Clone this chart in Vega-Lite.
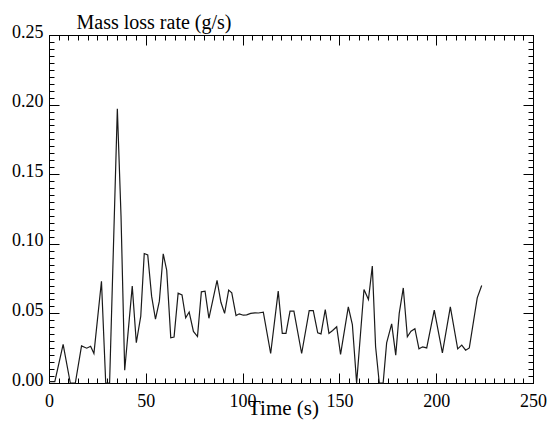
{
  "$schema": "https://vega.github.io/schema/vega-lite/v6.json",
  "width": 484,
  "height": 348,
  "autosize": "none",
  "padding": {"left": 49, "top": 35, "right": 17, "bottom": 40},
  "background": "white",
  "config": {
    "view": {"stroke": "black", "strokeWidth": 1},
    "font": "Liberation Serif",
    "axis": {"domainColor": "black", "tickColor": "black", "labelColor": "black", "titleColor": "black", "grid": false, "labelFont": "Liberation Serif", "titleFont": "Liberation Serif", "titleFontWeight": "normal", "zindex": 1}
  },
  "datasets": {
    "rate": [
      {"t": 0, "v": 0.001}, {"t": 3, "v": 0.001}, {"t": 7.3, "v": 0.0277}, {"t": 11, "v": 0}, {"t": 13.6, "v": 0},
      {"t": 16.8, "v": 0.0266}, {"t": 19.5, "v": 0.025}, {"t": 21.5, "v": 0.0264}, {"t": 23.2, "v": 0.0212}, {"t": 27.1, "v": 0.0731},
      {"t": 29.3, "v": 0}, {"t": 31.3, "v": 0}, {"t": 35.3, "v": 0.197}, {"t": 37.2, "v": 0.12}, {"t": 39.1, "v": 0.0092},
      {"t": 43, "v": 0.0696}, {"t": 45.1, "v": 0.0289}, {"t": 47.4, "v": 0.048}, {"t": 49.2, "v": 0.093}, {"t": 51, "v": 0.092},
      {"t": 53, "v": 0.0624}, {"t": 55, "v": 0.0458}, {"t": 57, "v": 0.0588}, {"t": 59, "v": 0.0928}, {"t": 60.8, "v": 0.081},
      {"t": 62.9, "v": 0.0325}, {"t": 64.6, "v": 0.033}, {"t": 66.7, "v": 0.0645}, {"t": 68.7, "v": 0.0633}, {"t": 70.6, "v": 0.0468},
      {"t": 72.4, "v": 0.051}, {"t": 74.6, "v": 0.037}, {"t": 76.7, "v": 0.0334}, {"t": 78.7, "v": 0.0655}, {"t": 80.6, "v": 0.066},
      {"t": 82.6, "v": 0.0465}, {"t": 86.8, "v": 0.0738}, {"t": 88.8, "v": 0.058}, {"t": 90.7, "v": 0.05}, {"t": 92.8, "v": 0.0667},
      {"t": 94.4, "v": 0.0648}, {"t": 96.6, "v": 0.0485}, {"t": 98.3, "v": 0.0497}, {"t": 100.4, "v": 0.0487}, {"t": 102.1, "v": 0.049},
      {"t": 104.2, "v": 0.05}, {"t": 106.4, "v": 0.0504}, {"t": 108.2, "v": 0.0503}, {"t": 110.7, "v": 0.0509}, {"t": 114.5, "v": 0.0212},
      {"t": 118.4, "v": 0.066}, {"t": 120.5, "v": 0.0356}, {"t": 122.4, "v": 0.0356}, {"t": 124.5, "v": 0.0516}, {"t": 126.5, "v": 0.0516},
      {"t": 130.5, "v": 0.0212}, {"t": 134.4, "v": 0.052}, {"t": 136.5, "v": 0.052}, {"t": 138.8, "v": 0.036}, {"t": 140.5, "v": 0.0353},
      {"t": 142.7, "v": 0.0528}, {"t": 144.6, "v": 0.0356}, {"t": 146.5, "v": 0.0377}, {"t": 148.6, "v": 0.0404}, {"t": 150.6, "v": 0.0205},
      {"t": 154.6, "v": 0.0547}, {"t": 156.7, "v": 0.042}, {"t": 158.9, "v": 0}, {"t": 162.7, "v": 0.0672}, {"t": 165, "v": 0.06},
      {"t": 167, "v": 0.084}, {"t": 168.7, "v": 0.026}, {"t": 170.6, "v": 0}, {"t": 172.6, "v": 0}, {"t": 174.4, "v": 0.0288},
      {"t": 177, "v": 0.0425}, {"t": 179.1, "v": 0.02}, {"t": 180.9, "v": 0.05}, {"t": 183, "v": 0.0683}, {"t": 185.1, "v": 0.0332},
      {"t": 187, "v": 0.0372}, {"t": 189, "v": 0.039}, {"t": 191.1, "v": 0.0245}, {"t": 193, "v": 0.026}, {"t": 195.1, "v": 0.0252},
      {"t": 199, "v": 0.0523}, {"t": 203.2, "v": 0.0217}, {"t": 207.3, "v": 0.0547}, {"t": 211.1, "v": 0.0245}, {"t": 213.2, "v": 0.0272},
      {"t": 215.2, "v": 0.0236}, {"t": 217.1, "v": 0.0252}, {"t": 221.2, "v": 0.0612}, {"t": 223.5, "v": 0.07}
    ]
  },
  "data": {"name": "rate"},
  "resolve": {"axis": {"x": "independent", "y": "independent"}},
  "layer": [
    {
      "mark": {"type": "line", "color": "#1a1a1a", "strokeWidth": 1.2},
      "encoding": {
        "x": {"field": "t", "type": "quantitative", "scale": {"domain": [0, 250], "nice": false},
          "axis": {"orient": "bottom", "values": [0, 50, 100, 150, 200, 250], "tickSize": -10,
            "labelFontSize": 18, "labelPadding": 19, "labelFlush": false,
            "title": "Time (s)", "titleFontSize": 21, "titleX": 234, "titleY": 31, "titleBaseline": "alphabetic", "titleAnchor": "middle", "titleAlign": "center"}},
        "y": {"field": "v", "type": "quantitative", "scale": {"domain": [0, 0.25], "nice": false},
          "axis": {"orient": "left", "values": [0, 0.05, 0.1, 0.15, 0.2, 0.25], "tickSize": -10, "format": ".2f",
            "labelFontSize": 18, "labelPadding": 16, "labelOffset": -3, "labelFlush": false,
            "title": "Mass loss rate (g/s)", "titleFontSize": 20, "titleAngle": 0, "titleX": 27, "titleY": -7, "titleAlign": "left", "titleBaseline": "alphabetic", "titleAnchor": "start"}}
      }
    },
    {
      "mark": {"type": "line", "opacity": 0},
      "encoding": {
        "x": {"field": "t", "type": "quantitative",
          "axis": {"orient": "bottom", "domain": false, "values": [5,10,15,20,25,30,35,40,45,55,60,65,70,75,80,85,90,95,105,110,115,120,125,130,135,140,145,155,160,165,170,175,180,185,190,195,205,210,215,220,225,230,235,240,245],
            "tickSize": -5, "labels": false, "title": null}},
        "y": {"field": "v", "type": "quantitative",
          "axis": {"orient": "left", "domain": false, "values": [0.005,0.01,0.015,0.02,0.025,0.03,0.035,0.04,0.045,0.055,0.06,0.065,0.07,0.075,0.08,0.085,0.09,0.095,0.105,0.11,0.115,0.12,0.125,0.13,0.135,0.14,0.145,0.155,0.16,0.165,0.17,0.175,0.18,0.185,0.19,0.195,0.205,0.21,0.215,0.22,0.225,0.23,0.235,0.24,0.245],
            "tickSize": -5, "labels": false, "title": null}}
      }
    },
    {
      "mark": {"type": "line", "opacity": 0},
      "encoding": {
        "x": {"field": "t", "type": "quantitative",
          "axis": {"orient": "top", "values": [0,5,10,15,20,25,30,35,40,45,50,55,60,65,70,75,80,85,90,95,100,105,110,115,120,125,130,135,140,145,150,155,160,165,170,175,180,185,190,195,200,205,210,215,220,225,230,235,240,245,250],
            "tickSize": {"expr": "datum.value % 50 === 0 ? -10 : -5"}, "labels": false, "title": null}},
        "y": {"field": "v", "type": "quantitative",
          "axis": {"orient": "right", "values": [0,0.005,0.01,0.015,0.02,0.025,0.03,0.035,0.04,0.045,0.05,0.055,0.06,0.065,0.07,0.075,0.08,0.085,0.09,0.095,0.1,0.105,0.11,0.115,0.12,0.125,0.13,0.135,0.14,0.145,0.15,0.155,0.16,0.165,0.17,0.175,0.18,0.185,0.19,0.195,0.2,0.205,0.21,0.215,0.22,0.225,0.23,0.235,0.24,0.245,0.25],
            "tickSize": {"condition": {"test": "abs(datum.value * 20 - round(datum.value * 20)) < 0.001", "value": -10}, "value": -5}, "labels": false, "title": null}}
      }
    }
  ]
}
